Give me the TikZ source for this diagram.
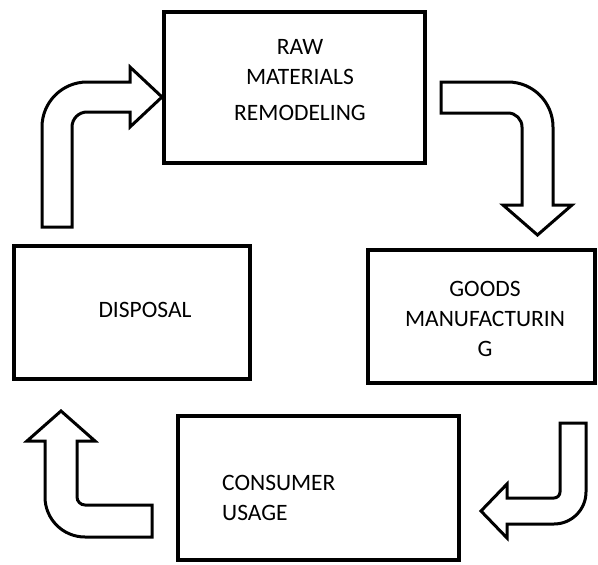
\documentclass[tikz,border=0pt]{standalone}
\usepackage{fontspec}
\setmainfont{Carlito}
\usepackage{tikz}
\usetikzlibrary{positioning,calc}
\tikzset{
  stage-box/.style={draw=black, line width=3.2pt, fill=white, inner sep=0pt},
  stage-text/.style={font=\fontsize{23.5}{30}\selectfont, align=center, inner sep=0pt},
  turn-arrow/.style={draw=black, line width=3pt, fill=white, line join=miter}
}

\begin{document}
\begin{tikzpicture}[x=1pt, y=-1pt]
\useasboundingbox (0,0) rectangle (598,565);

% Four stages of the cycle
\node[stage-box, minimum width=261pt, minimum height=151pt] (raw) at (294.5,87.5) {};
\node[stage-box, minimum width=227pt, minimum height=133pt] (goods) at (481.5,316.5) {};
\node[stage-box, minimum width=281pt, minimum height=144pt] (usage) at (318.5,488) {};
\node[stage-box, minimum width=236pt, minimum height=133pt] (disposal) at (132,312.5) {};

% Labels
\node[stage-text] (raw-text) at (300,80) {RAW\\MATERIALS\\[6pt]REMODELING};
\node[stage-text] (goods-text) at (485,319) {GOODS\\MANUFACTURIN\\G};
\node[stage-text, anchor=west, align=left] (usage-text) at (222,498) {CONSUMER\\USAGE};
\node[stage-text] (disposal-text) at (145,310) {DISPOSAL};

% Bent block arrows between the stages
\draw[turn-arrow] (441,82) -- (508,82) arc[start angle=90, end angle=0, radius=45pt]
  -- (553,205) -- (572,205) -- (537.5,235) -- (503,205) -- (522,205) -- (522,127)
  arc[start angle=0, end angle=90, radius=14pt] -- (441,113) -- cycle;

\draw[turn-arrow] (560,423) -- (586,423) -- (586,492) arc[start angle=0, end angle=-90, radius=32pt]
  -- (507,524) -- (507,538) -- (481,511) -- (507,484) -- (507,498) -- (554,498)
  arc[start angle=-90, end angle=0, radius=6pt] -- cycle;

\draw[turn-arrow] (152,537) -- (85,537) arc[start angle=-90, end angle=-180, radius=40pt]
  -- (45,441) -- (27,441) -- (61,411) -- (95,441) -- (77,441) -- (77,497)
  arc[start angle=180, end angle=270, radius=8pt] -- (152,505) -- cycle;

\draw[turn-arrow] (42,227) -- (42,127) arc[start angle=180, end angle=90, radius=45pt]
  -- (130,82) -- (130,67) -- (162,97) -- (130,127) -- (130,112) -- (87,112)
  arc[start angle=90, end angle=180, radius=15pt] -- (72,227) -- cycle;
\end{tikzpicture}
\end{document}
